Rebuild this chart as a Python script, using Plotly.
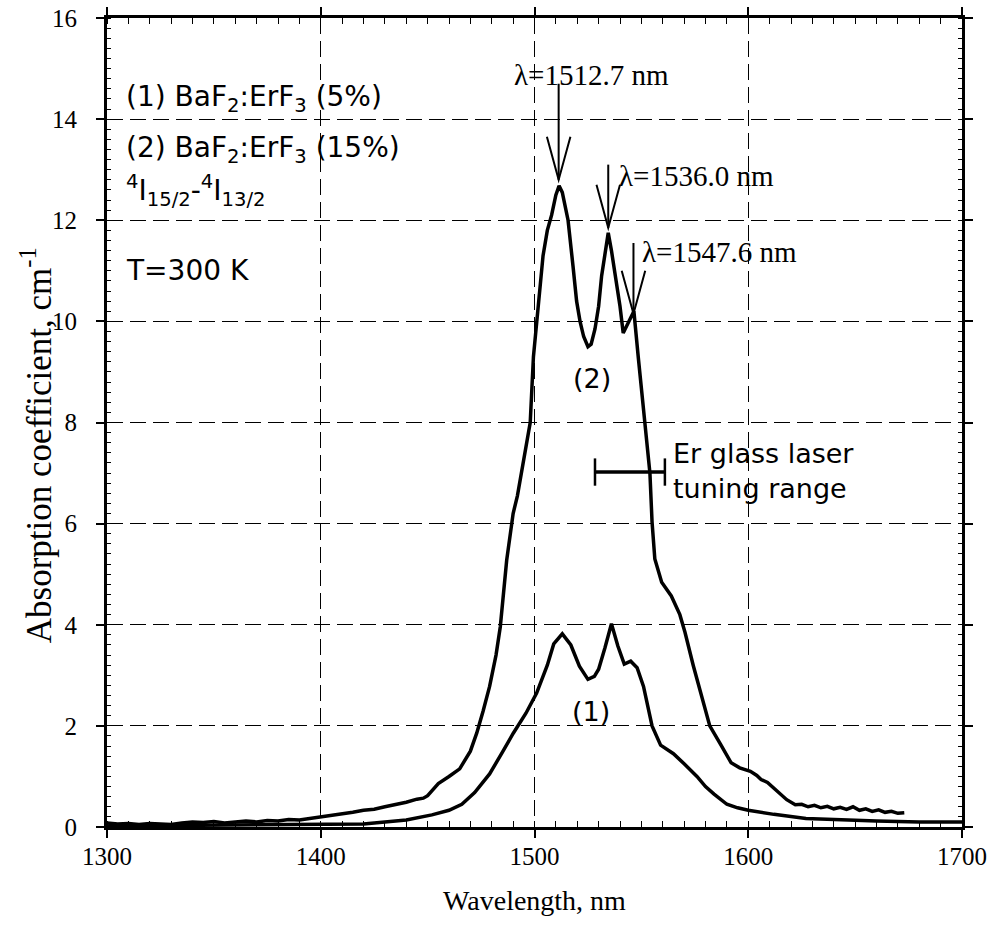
import plotly.graph_objects as go

# sample (1) BaF2:ErF3 (5%)
wl_5 = [1300, 1350, 1400, 1420, 1440, 1452, 1460, 1466, 1472, 1479, 1485, 1490,
        1496, 1501, 1506, 1509, 1513, 1517, 1521, 1525, 1528, 1530, 1533, 1536,
        1539, 1542, 1545, 1548, 1551, 1555, 1559, 1565, 1570, 1576, 1580, 1584,
        1590, 1595, 1600, 1612, 1627, 1643, 1660, 1680, 1700]
abs_5 = [0.02, 0.03, 0.04, 0.06, 0.14, 0.24, 0.33, 0.45, 0.68, 1.05, 1.48, 1.85,
         2.25, 2.65, 3.2, 3.62, 3.82, 3.6, 3.18, 2.92, 2.98, 3.12, 3.55, 4.02,
         3.58, 3.22, 3.28, 3.15, 2.78, 2.0, 1.62, 1.45, 1.25, 1.0, 0.8, 0.65,
         0.45, 0.38, 0.33, 0.25, 0.17, 0.14, 0.12, 0.1, 0.1]

# sample (2) BaF2:ErF3 (15%)
wl_15 = [1300, 1305, 1310, 1315, 1320, 1325, 1330, 1335, 1340, 1345, 1350, 1355,
         1360, 1365, 1370, 1375, 1380, 1385, 1390, 1395, 1400, 1405, 1410, 1415,
         1420, 1425, 1430, 1435, 1440, 1445, 1448, 1450, 1452, 1455, 1460, 1465,
         1470, 1473, 1476, 1479, 1482, 1484, 1487, 1490, 1492, 1495, 1498, 1499.5,
         1502, 1504, 1506, 1508, 1510, 1511.5, 1513, 1515.7, 1518, 1519.7, 1521.3,
         1523, 1525, 1526.5, 1528.3, 1530, 1531.4, 1533, 1534.5, 1536, 1537.7,
         1540, 1541.5, 1542.5, 1543.9, 1546.5, 1548.5, 1550, 1551.6, 1554, 1555,
         1556.3, 1559.5, 1564, 1568, 1570.4, 1574.3, 1578.2, 1582, 1587, 1592,
         1596, 1601, 1604, 1606, 1609, 1612, 1615, 1618, 1622, 1625, 1628, 1631,
         1634, 1637, 1640, 1643, 1646, 1649, 1652, 1655, 1658, 1661, 1664, 1667,
         1670, 1673]
abs_15 = [0.08, 0.06, 0.07, 0.05, 0.07, 0.06, 0.05, 0.08, 0.1, 0.09, 0.11, 0.08,
          0.1, 0.12, 0.1, 0.13, 0.12, 0.15, 0.14, 0.17, 0.2, 0.23, 0.25, 0.29,
          0.33, 0.35, 0.4, 0.44, 0.49, 0.55, 0.57, 0.62, 0.72, 0.86, 1.0, 1.15,
          1.5, 1.86, 2.3, 2.78, 3.4, 3.96, 5.28, 6.2, 6.55, 7.3, 8.0, 9.3,
          10.5, 11.3, 11.8, 12.1, 12.5, 12.68, 12.55, 12.0, 11.1, 10.4, 10.0,
          9.7, 9.5, 9.55, 9.85, 10.3, 10.9, 11.4, 11.75, 11.4, 10.97,
          10.3, 9.77, 9.85, 9.97, 10.2, 9.31, 8.7, 7.95, 7.0, 6.03,
          5.3, 4.84, 4.57, 4.2, 3.85, 3.19, 2.59, 2.0, 1.64, 1.27,
          1.17, 1.1, 1.02, 0.94, 0.88, 0.77, 0.66, 0.54, 0.44, 0.45, 0.4, 0.43,
          0.38, 0.41, 0.36, 0.39, 0.35, 0.4, 0.33, 0.36, 0.31, 0.34, 0.29, 0.31,
          0.27, 0.28]

# Er glass laser tuning range, nm
tuning_range = [1528.3, 1561.0]
tuning_level = 7.02

# marked peaks
peak_labels = ["λ=1512.7 nm", "λ=1536.0 nm", "λ=1547.6 nm"]
peak_nm = [1511.3, 1534.5, 1546.3]

# annotation geometry (layout only)
arrow_tip = [12.8, 11.85, 10.15]
arrow_top = [14.7, 13.1, 11.55]
label_x = [1489.5, 1538.4, 1549.4]
label_y = [14.88, 12.87, 11.38]
head_w = 5.5
head_h = 0.85

SERIF = "Liberation Serif"
SANS = "DejaVu Sans"

fig = go.Figure()
fig.add_trace(go.Scatter(x=wl_15, y=abs_15, mode="lines",
                         line=dict(color="black", width=3.5), showlegend=False))
fig.add_trace(go.Scatter(x=wl_5, y=abs_5, mode="lines",
                         line=dict(color="black", width=3.5), showlegend=False))
fig.add_trace(go.Scatter(x=tuning_range, y=[tuning_level, tuning_level], mode="lines",
                         line=dict(color="black", width=3.5), showlegend=False,
                         error_y=dict(type="constant", value=0.27, width=0,
                                      thickness=2.5, color="black")))

shapes = []
for px, tip, top in zip(peak_nm, arrow_tip, arrow_top):
    shapes.append(dict(type="line", xref="x", yref="y", x0=px, x1=px, y0=top, y1=tip,
                       line=dict(color="black", width=2)))
    shapes.append(dict(type="path", xref="x", yref="y",
                       path=f"M {px - head_w},{tip + head_h} L {px},{tip} L {px + head_w},{tip + head_h}",
                       line=dict(color="black", width=2)))

annotations = []
for txt, lx, ly in zip(peak_labels, label_x, label_y):
    annotations.append(dict(x=lx, y=ly, xref="x", yref="y", text=txt, showarrow=False,
                            xanchor="left", yanchor="middle",
                            font=dict(family=SERIF, size=29, color="black")))

legend_lines = ["(1) BaF<sub>2</sub>:ErF<sub>3</sub> (5%)",
                "(2) BaF<sub>2</sub>:ErF<sub>3</sub> (15%)",
                "<sup>4</sup>I<sub>15/2</sub>-<sup>4</sup>I<sub>13/2</sub>",
                "T=300 K"]
legend_y = [14.4, 13.4, 12.58, 11.0]
for txt, ly in zip(legend_lines, legend_y):
    annotations.append(dict(x=1308.0, y=ly, xref="x", yref="y", text=txt, showarrow=False,
                            xanchor="left", yanchor="middle",
                            font=dict(family=SANS, size=28, color="black")))

annotations.append(dict(x=1526.7, y=8.88, xref="x", yref="y", text="(2)", showarrow=False,
                        font=dict(family=SANS, size=27, color="black")))
annotations.append(dict(x=1526.4, y=2.29, xref="x", yref="y", text="(1)", showarrow=False,
                        font=dict(family=SANS, size=27, color="black")))
annotations.append(dict(x=1564.0, y=7.05, xref="x", yref="y",
                        text="Er glass laser<br>tuning range", showarrow=False,
                        xanchor="left", yanchor="middle", align="left",
                        font=dict(family=SANS, size=27, color="black")))
annotations.append(dict(x=-0.083, y=0.472, xref="paper", yref="paper",
                        text="Absorption coefficient, cm<sup>-1</sup>", showarrow=False,
                        textangle=-90, xanchor="center", yanchor="middle",
                        font=dict(family=SERIF, size=35, color="black")))

axis_common = dict(showline=True, linecolor="black", linewidth=3, mirror="allticks",
                   ticks="outside", ticklen=8, tickwidth=1.5, tickcolor="black",
                   showgrid=True, gridcolor="black", gridwidth=1.3,
                   griddash="16px,7px", zeroline=False, automargin=False,
                   ticklabeloverflow="allow",
                   tickfont=dict(family=SERIF, size=25, color="black"))

fig.update_layout(
    width=992, height=928,
    margin=dict(l=107, r=30, t=18, b=101),
    paper_bgcolor="white", plot_bgcolor="white",
    shapes=shapes, annotations=annotations,
    xaxis=dict(range=[1300, 1700], dtick=100, tick0=1300, ticklabelstandoff=-3,
               minor=dict(dtick=10, ticks="inside", ticklen=6, tickwidth=1.3,
                          tickcolor="black", showgrid=False),
               title=dict(text="Wavelength, nm", standoff=22,
                          font=dict(family=SERIF, size=28, color="black")),
               **axis_common),
    yaxis=dict(range=[0, 16], dtick=2, tick0=0, ticklabelstandoff=14,
               minor=dict(dtick=0.2, ticks="inside", ticklen=4, tickwidth=1.2,
                          tickcolor="black", showgrid=False),
               **axis_common),
)

# drop the default 8px page margin so the figure fills the window exactly
fig.write_html("out.html", config={"displayModeBar": False},
               post_script="document.body.style.margin='0';")
